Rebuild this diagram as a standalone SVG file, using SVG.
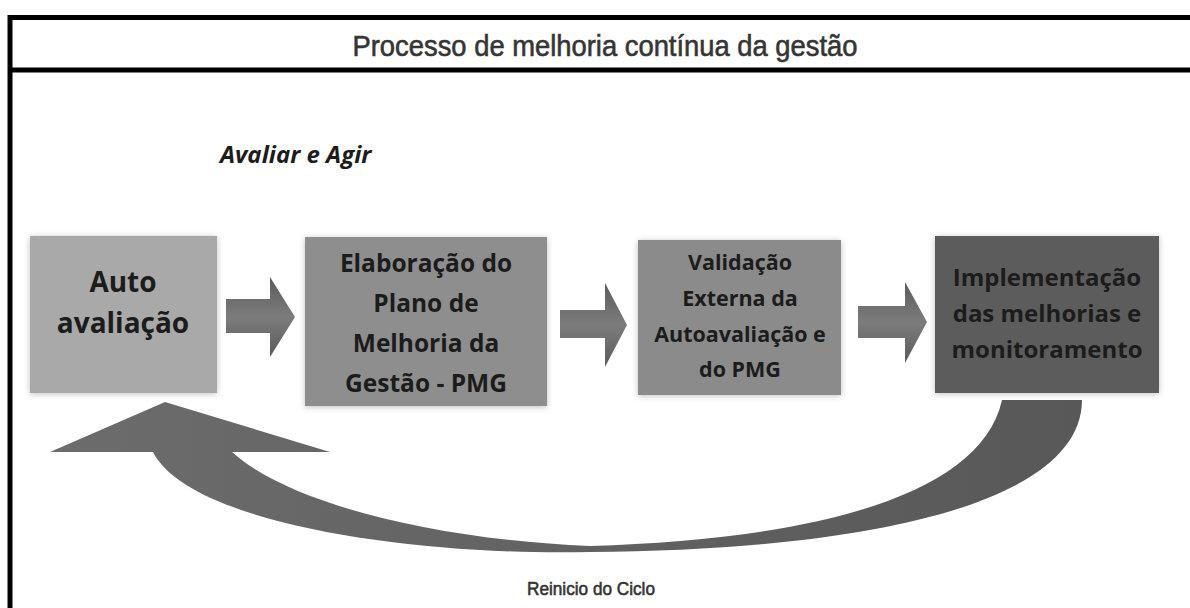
<svg xmlns="http://www.w3.org/2000/svg" width="1190" height="608" viewBox="0 0 1190 608">
<defs>
<style>
.box{stroke:none;filter:url(#sh)}
.bt{font-family:"Open Sans","Noto Sans",sans-serif;font-weight:bold;fill:#1c1c1c;text-anchor:middle}
.frame{stroke:#000;stroke-width:5;fill:none}
.cond{font-family:"Liberation Sans",Arial,sans-serif;text-anchor:middle;stroke-width:0.6}
</style>
<filter id="sh" x="-10%" y="-10%" width="120%" height="120%">
<feGaussianBlur in="SourceAlpha" stdDeviation="3"/>
<feOffset dx="0" dy="1" result="b"/>
<feComponentTransfer><feFuncA type="linear" slope="0.25"/></feComponentTransfer>
<feMerge><feMergeNode/><feMergeNode in="SourceGraphic"/></feMerge>
</filter>
<linearGradient id="ag" x1="0" y1="0" x2="0" y2="1">
<stop offset="0" stop-color="#5c5c5c"/>
<stop offset="0.5" stop-color="#7c7c7c"/>
<stop offset="1" stop-color="#5a5a5a"/>
</linearGradient>
<linearGradient id="cg" x1="0" y1="0" x2="1" y2="0">
<stop offset="0" stop-color="#6c6c6c"/>
<stop offset="1" stop-color="#585858"/>
</linearGradient>
</defs>
<rect width="1190" height="608" fill="#fff"/>
<g id="frame">
<path class="frame" d="M10 608 V17.5 H1190"/>
<line class="frame" x1="8" y1="70" x2="1190" y2="70"/>
<text class="cond" x="605" y="56" font-size="29" fill="#353535" stroke="#353535" textLength="505" lengthAdjust="spacingAndGlyphs">Processo de melhoria contínua da gestão</text>
</g>
<text x="220" y="163" font-family="Open Sans, sans-serif" font-size="24" font-weight="bold" font-style="italic" fill="#1c1c1c">Avaliar e Agir</text>
<g id="connectors">
<path d="M226 299 H270 V277 L295 317 L270 357 V333 H226 Z" fill="url(#ag)"/>
<path d="M560 310 H605 V283 L627 325 L605 367 V338 H560 Z" fill="url(#ag)"/>
<path d="M858 306 H905 V282 L927 322 L905 363 V338 H858 Z" fill="url(#ag)"/>
<path d="M1082 400 C1082 500 880 550 590 552 C420 556 190 525 153 452 L50 452 L165 402 L330 452 L232 452 C290 505 440 540 590 546 C800 540 980 500 1002 400 Z" fill="url(#cg)"/>
<text class="cond" x="591" y="595" font-size="19" fill="#333" stroke="#333" stroke-width="0.4" textLength="128" lengthAdjust="spacingAndGlyphs">Reinicio do Ciclo</text>
</g>
<g id="n1">
<rect class="box" x="30" y="236" width="187" height="157" fill="#a9a9a9"/>
<text class="bt" font-size="28"><tspan x="123" y="292">Auto</tspan><tspan x="123" y="333">avaliação</tspan></text>
</g>
<g id="n2">
<rect class="box" x="305" y="237" width="242" height="169" fill="#8e8e8e"/>
<text class="bt" font-size="24.5"><tspan x="426" y="272">Elaboração do</tspan><tspan x="426" y="312">Plano de</tspan><tspan x="426" y="352">Melhoria da</tspan><tspan x="426" y="392">Gestão - PMG</tspan></text>
</g>
<g id="n3">
<rect class="box" x="638" y="240" width="203" height="155" fill="#8b8b8b"/>
<text class="bt" font-size="21.5"><tspan x="740" y="270">Validação</tspan><tspan x="740" y="306">Externa da</tspan><tspan x="740" y="342">Autoavaliação e</tspan><tspan x="740" y="377">do PMG</tspan></text>
</g>
<g id="n4">
<rect class="box" x="935" y="236" width="224" height="157" fill="#5b5b5b"/>
<text class="bt" font-size="24"><tspan x="1047" y="286">Implementação</tspan><tspan x="1047" y="322">das melhorias e</tspan><tspan x="1047" y="358">monitoramento</tspan></text>
</g>
</svg>
